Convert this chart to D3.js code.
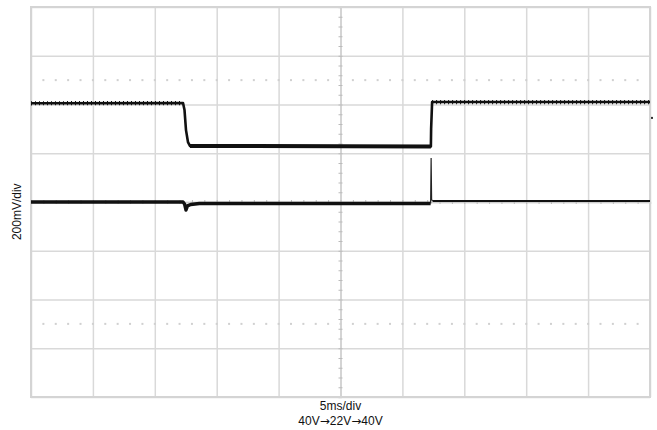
<!DOCTYPE html>
<html>
<head>
<meta charset="utf-8">
<script src="https://cdn.jsdelivr.net/npm/d3@7"></script>
<style>
body{margin:0;background:#fff}
text{font-family:"Liberation Sans",Arial,sans-serif}
</style>
</head>
<body>
<div id="chart"></div>
<script>
// scope settings
var msPerDiv = 5
var mvPerDiv = 200
var xDivs = 10
var yDivs = 8
var cursorLevels = [500, -500]   // dotted cursor lines (mV)

// channel 1 (upper trace): time in ms, level in mV
var ch1Time = [0, 12.28, 12.4, 12.52, 12.68, 12.84, 32.3, 32.32, 32.4, 50]
var ch1mV   = [405, 406, 377, 295, 246, 230, 228, 300, 410, 410]

// channel 2 (lower trace)
var ch2Time = [0, 12.28, 12.4, 12.52, 12.64, 12.9, 13.6, 32.28, 32.32, 32.36, 32.45, 50]
var ch2mV   = [0, 0, -8, -33, -16, -10, -6, -6, 180, 10, 4, 4]

var labelY = "200mV/div"
var labelX1 = "5ms/div"
var labelX2 = "40V\u219222V\u219240V"

var margin = {top: 7, right: 7, bottom: 33, left: 31},
width = 657 - margin.left - margin.right,
height = 430 - margin.top - margin.bottom

var svg = d3.select("#chart").append("svg").attr("width",657).attr("height",430)
var g = svg.append("g").attr("transform","translate("+margin.left+","+margin.top+")")

var x = d3.scaleLinear().domain([0, msPerDiv*xDivs]).range([0, width])
var y = d3.scaleLinear().domain([-mvPerDiv*yDivs/2, mvPerDiv*yDivs/2]).range([height, 0])

var xMajor = d3.range(0, msPerDiv*xDivs+1, msPerDiv)
var yMajor = d3.range(-mvPerDiv*yDivs/2, mvPerDiv*yDivs/2+1, mvPerDiv)

// grid
g.append("g")
	.attr("transform","translate(0,"+height+")")
	.call(d3.axisBottom(x).tickValues(xMajor).tickSize(-height).tickFormat(""))
	.call(function(a){
		a.select(".domain").remove()
		a.selectAll("line").attr("stroke","#d9d9d9").attr("stroke-width",1.5)
	})
g.append("g")
	.call(d3.axisLeft(y).tickValues(yMajor).tickSize(-width).tickFormat(""))
	.call(function(a){
		a.select(".domain").remove()
		a.selectAll("line").attr("stroke","#d9d9d9").attr("stroke-width",1.5)
	})

// minor ticks on the centre axes
var xMinor = d3.range(0, msPerDiv*xDivs+0.01, msPerDiv/5)
var yMinor = d3.range(-mvPerDiv*yDivs/2, mvPerDiv*yDivs/2+1, mvPerDiv/5)
g.append("g")
	.attr("transform","translate("+x(msPerDiv*xDivs/2)+",0)")
	.call(d3.axisLeft(y).tickValues(yMinor).tickSize(2).tickFormat(""))
	.call(function(a){
		a.select(".domain").attr("stroke","#cfcfcf").attr("stroke-width",1.5)
		a.selectAll(".tick line").attr("stroke","#bbb").attr("x2",2).attr("x1",-2)
	})
g.append("g")
	.attr("transform","translate(0,"+y(0)+")")
	.call(d3.axisBottom(x).tickValues(xMinor).tickSize(2).tickFormat(""))
	.call(function(a){
		a.select(".domain").attr("stroke","#cfcfcf").attr("stroke-width",1.5)
		a.selectAll(".tick line").attr("stroke","#bbb").attr("y1",-2).attr("y2",2)
	})

// dotted cursor lines
cursorLevels.forEach(function(lv){
	g.append("g").selectAll("rect")
		.data(xMinor.slice(1))
		.enter().append("rect")
		.attr("x",function(d){return x(d)-1})
		.attr("y",y(lv)-1)
		.attr("width",2).attr("height",2)
		.attr("fill","#d0d0d0")
})

// border
g.append("rect").attr("x",0).attr("y",0).attr("width",width).attr("height",height)
	.attr("fill","none").attr("stroke","#d4d4d4").attr("stroke-width",2)

// traces
var line = d3.line().x(function(d){return x(d[0])}).y(function(d){return y(d[1])})
var ch1 = d3.zip(ch1Time, ch1mV)
var ch2 = d3.zip(ch2Time, ch2mV)

g.append("path").datum(ch1).attr("d",line)
	.attr("fill","none").attr("stroke","#111").attr("stroke-width",2.6)
	.attr("stroke-linejoin","round")
// low part of ch1 is drawn thicker on the scope
g.append("path").datum(ch1.slice(5,7)).attr("d",line)
	.attr("fill","none").attr("stroke","#111").attr("stroke-width",4)
// texture of the noisy high level
g.append("path").datum(ch1.slice(0,2)).attr("d",line)
	.attr("fill","none").attr("stroke","#111").attr("stroke-width",4.2)
	.attr("stroke-dasharray","1,3")
g.append("path").datum(ch1.slice(8)).attr("d",line)
	.attr("fill","none").attr("stroke","#111").attr("stroke-width",4.2)
	.attr("stroke-dasharray","1,3")

g.append("path").datum(ch2.slice(0,8)).attr("d",line)
	.attr("fill","none").attr("stroke","#111").attr("stroke-width",3.4)
	.attr("stroke-linejoin","round")
// spike at the load step is a thin line
g.append("path").datum(ch2.slice(7,11)).attr("d",line)
	.attr("fill","none").attr("stroke","#222").attr("stroke-width",1.2)
g.append("path").datum(ch2.slice(10)).attr("d",line)
	.attr("fill","none").attr("stroke","#111").attr("stroke-width",2)

// small channel marker on right edge
g.append("rect").attr("x",width+1).attr("y",y(345)-1).attr("width",2).attr("height",2).attr("fill","#333")

// labels
svg.append("text")
	.attr("transform","translate(21,"+(margin.top+y(-40))+") rotate(-90)")
	.attr("text-anchor","middle").attr("font-size","12px").attr("fill","#111")
	.text(labelY)
svg.append("text")
	.attr("x",margin.left+x(msPerDiv*xDivs/2)).attr("y",410)
	.attr("text-anchor","middle").attr("font-size","12px").attr("fill","#111")
	.text(labelX1)
// arrows drawn from DejaVu Sans, which has a full-width arrow glyph
var t2 = svg.append("text")
	.attr("x",margin.left+x(msPerDiv*xDivs/2)).attr("y",425)
	.attr("text-anchor","middle").attr("font-size","12px").attr("fill","#111")
labelX2.split("").forEach(function(c){
	var s = t2.append("tspan").text(c)
	if(c=="\u2192") s.style("font-family","'DejaVu Sans'")
})
</script>
</body>
</html>
